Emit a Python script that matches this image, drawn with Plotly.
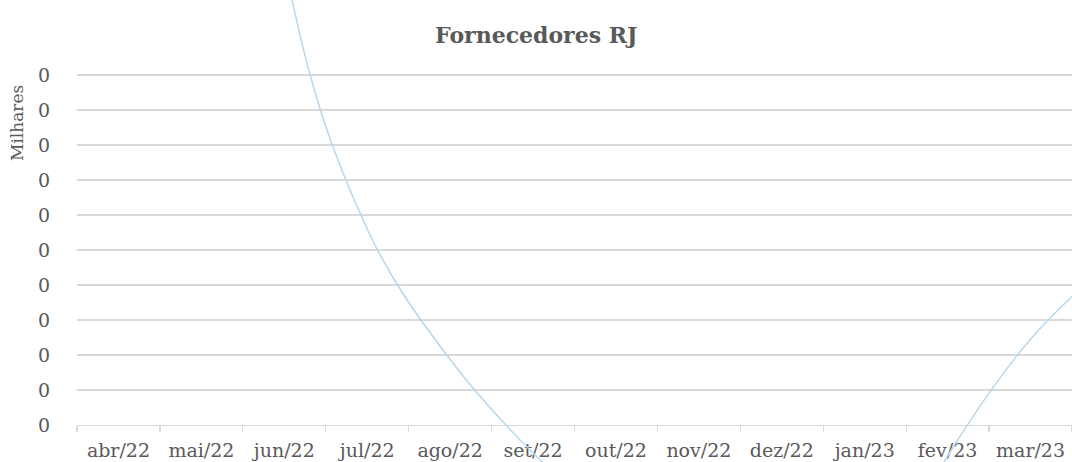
import plotly.graph_objects as go

# ---- data ----
months = ["abr/22", "mai/22", "jun/22", "jul/22", "ago/22", "set/22",
          "out/22", "nov/22", "dez/22", "jan/23", "fev/23", "mar/23"]
# the line continues past the right (cropped) edge toward the next month
line_months = months + ["abr/23"]
values = [1300, 1054, 266, 112, 37.4, -16, -58, -86, -100, -105, -17.7, 49, 95]

y_ticks = [0, 20, 40, 60, 80, 100, 120, 140, 160, 180, 200]
y_ticktext = ["0"] * len(y_ticks)

W, H = 1072, 462
left_px, top_px, bottom_px = 77, 75, 425
px_per_unit = (bottom_px - top_px) / (y_ticks[-1] - y_ticks[0])
cat_w = (W - left_px) / len(months)
y_pad = 2.0  # headroom so the top gridline is not clipped at the plot edge
y_hi = y_ticks[-1] + y_pad
top_eff = top_px - y_pad * px_per_unit

font_family = "DejaVu Serif"
grey = "#595959"
grid = "#D9D9D9"

fig = go.Figure()

# invisible trace that carries the category axis
fig.add_trace(go.Scatter(
    x=months, y=values[:len(months)], mode="lines",
    line=dict(width=0), opacity=0, hoverinfo="skip", showlegend=False,
    xaxis="x", yaxis="y"))

# visible smoothed line on a full-figure overlay so it can leave the plot area
fig.add_trace(go.Scatter(
    x=line_months, y=values, mode="lines", line_shape="spline",
    line=dict(color="#B9D7EC", width=1.5), hoverinfo="skip", showlegend=False,
    xaxis="x2", yaxis="y2"))

x2_lo = -0.5 - left_px / cat_w
x2_hi = len(months) - 0.5 + (W - (left_px + cat_w * len(months))) / cat_w
y2_lo = -(H - bottom_px) / px_per_unit
y2_hi = bottom_px / px_per_unit

fig.update_layout(
    width=W, height=H, autosize=False,
    margin=dict(l=0, r=0, t=0, b=0, pad=0, autoexpand=False),
    paper_bgcolor="white", plot_bgcolor="rgba(0,0,0,0)",
    showlegend=False,
    font=dict(family=font_family, color=grey, size=19),
    xaxis=dict(
        type="category", categoryorder="array", categoryarray=months,
        domain=[left_px / W, 1], range=[-0.5, len(months) - 0.5],
        anchor="y", showgrid=False, zeroline=False, automargin=False,
        showline=True, linecolor=grid, linewidth=1.3,
        ticks="outside", tickson="boundaries", ticklen=6,
        tickcolor=grid, tickwidth=1.3,
        tickfont=dict(family=font_family, size=19, color=grey),
        ticklabelstandoff=8,
    ),
    yaxis=dict(
        domain=[(H - bottom_px) / H, (H - top_eff) / H],
        range=[y_ticks[0], y_hi], anchor="x", automargin=False,
        tickmode="array", tickvals=y_ticks, ticktext=y_ticktext,
        showgrid=True, gridcolor=grid, gridwidth=1.3,
        zeroline=False, showline=False, ticks="",
        tickfont=dict(family=font_family, size=19, color=grey),
        ticklabelstandoff=26,
    ),
    xaxis2=dict(
        type="category", categoryorder="array", categoryarray=line_months,
        domain=[0, 1], range=[x2_lo, x2_hi], anchor="y2",
        visible=False, fixedrange=True, automargin=False,
    ),
    yaxis2=dict(
        domain=[0, 1], range=[y2_lo, y2_hi], anchor="x2",
        visible=False, fixedrange=True, automargin=False,
    ),
    annotations=[
        dict(text="<b>Fornecedores RJ</b>", xref="paper", yref="paper",
             x=0.5, y=1 - 35 / H, xanchor="center", yanchor="middle",
             showarrow=False,
             font=dict(family=font_family, size=22, color=grey)),
        dict(text="Milhares", xref="paper", yref="paper",
             x=17 / W, y=1 - 123 / H, xanchor="center", yanchor="middle",
             textangle=-90, showarrow=False,
             font=dict(family=font_family, size=17, color=grey)),
    ],
)

fig.write_html(
    "out.html",
    config={"displayModeBar": False, "staticPlot": True},
    post_script="document.body.style.margin='0';document.body.style.overflow='hidden';",
)
